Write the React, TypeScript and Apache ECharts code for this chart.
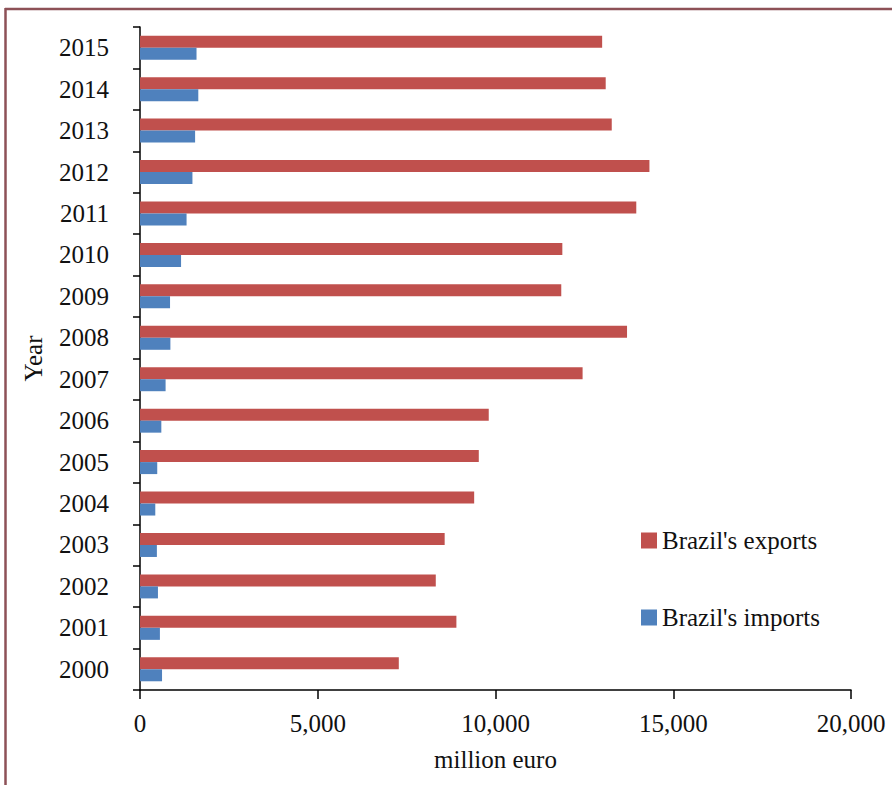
import React, { useEffect, useRef } from "react";
import * as echarts from "echarts";

const years = ["2000", "2001", "2002", "2003", "2004", "2005", "2006", "2007", "2008", "2009", "2010", "2011", "2012", "2013", "2014", "2015"];
const exportsValues = [7280, 8900, 8320, 8570, 9400, 9530, 9810, 12450, 13700, 11850, 11880, 13960, 14330, 13270, 13100, 13000];
const importsValues = [620, 560, 505, 475, 430, 485, 600, 720, 855, 845, 1155, 1310, 1475, 1550, 1640, 1590];
const xTicks = [0, 5000, 10000, 15000, 20000];

const FONT = "Liberation Serif";

export default function App() {
  const ref = useRef<HTMLDivElement>(null);
  useEffect(() => {
    const chart = echarts.init(ref.current!, null, { renderer: "svg" });
    chart.setOption({
      animation: false,
      backgroundColor: "#ffffff",
      textStyle: { fontFamily: FONT, color: "#000" },
      graphic: [
        { type: "line", shape: { x1: 5, y1: 9, x2: 892, y2: 9 }, style: { stroke: "#8d5157", lineWidth: 2.5 } },
        { type: "line", shape: { x1: 5.5, y1: 8, x2: 5.5, y2: 785 }, style: { stroke: "#8d5157", lineWidth: 2.5 } },
      ],
      grid: { left: 140, right: 41, top: 27, bottom: 95, containLabel: false },
      legend: {
        orient: "vertical",
        left: 636,
        top: 523,
        itemWidth: 16,
        itemHeight: 16,
        itemGap: 52,
        icon: "rect",
        textStyle: { fontFamily: FONT, fontSize: 25, color: "#111", padding: [0, 0, 0, 0] },
        data: ["Brazil's exports", "Brazil's imports"],
      },
      xAxis: {
        type: "value",
        min: xTicks[0],
        max: xTicks[xTicks.length - 1],
        interval: 5000,
        name: "million euro",
        nameLocation: "middle",
        nameGap: 57,
        nameTextStyle: { fontFamily: FONT, fontSize: 25, color: "#111" },
        axisLine: { show: true, lineStyle: { color: "#000", width: 1.5 } },
        axisTick: { show: true, length: 9, lineStyle: { color: "#000", width: 1.5 } },
        axisLabel: {
          fontFamily: FONT,
          fontSize: 25,
          color: "#111",
          margin: 21,
          formatter: (v: number) => v.toLocaleString("en-US"),
        },
        splitLine: { show: false },
      },
      yAxis: {
        type: "category",
        data: years,
        name: "Year",
        nameLocation: "middle",
        nameGap: 94,
        nameTextStyle: { fontFamily: FONT, fontSize: 25, color: "#111" },
        axisLine: { show: true, lineStyle: { color: "#000", width: 1.5 } },
        axisTick: { show: true, inside: false, length: 7, lineStyle: { color: "#000", width: 1.5 } },
        axisLabel: { fontFamily: FONT, fontSize: 25, color: "#111", margin: 31 },
      },
      series: [
        {
          name: "Brazil's exports",
          type: "bar",
          data: exportsValues,
          barWidth: 12,
          barGap: "0%",
          itemStyle: { color: "#C0504D" },
        },
        {
          name: "Brazil's imports",
          type: "bar",
          data: importsValues,
          barWidth: 12,
          barGap: "0%",
          itemStyle: { color: "#4F81BD" },
        },
      ],
    });
    return () => chart.dispose();
  }, []);
  return (
    <div
      ref={ref}
      style={{ position: "fixed", left: 0, top: 0, width: 892, height: 785 }}
    />
  );
}
